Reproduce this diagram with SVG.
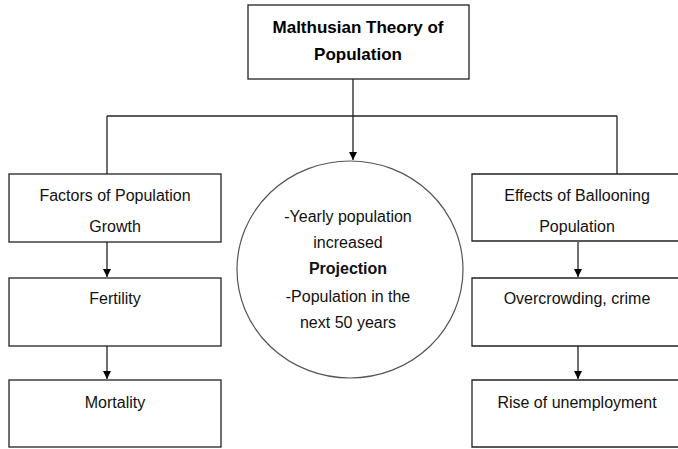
<svg xmlns="http://www.w3.org/2000/svg" width="678" height="449" viewBox="0 0 678 449">
  <defs>
    <marker id="arr" markerWidth="10" markerHeight="10" refX="8" refY="5" orient="auto" markerUnits="userSpaceOnUse">
      <path d="M0,1 L8,5 L0,9 Z" fill="#000"/>
    </marker>
    <style>
      .box { fill: #fff; stroke: #222; stroke-width: 1.3; }
      .conn { fill: none; stroke: #222; stroke-width: 1.3; }
      .t { font-family: "Liberation Sans", Arial, sans-serif; font-size: 16px; fill: #111; text-anchor: middle; }
      .tb { font-family: "Liberation Sans", Arial, sans-serif; font-size: 17px; font-weight: bold; fill: #000; text-anchor: middle; }
    </style>
  </defs>
  <rect width="678" height="449" fill="#fff"/>

  <g id="connectors">
    <path class="conn" d="M353,79 V116"/>
    <path class="conn" d="M107,116 H617"/>
    <path class="conn" d="M107,116 V174"/>
    <path class="conn" d="M617,116 V174"/>
    <path class="conn" d="M353,116 V160" marker-end="url(#arr)"/>
    <path class="conn" d="M107,242 V277" marker-end="url(#arr)"/>
    <path class="conn" d="M107,346 V379" marker-end="url(#arr)"/>
    <path class="conn" d="M578,242 V277" marker-end="url(#arr)"/>
    <path class="conn" d="M578,346 V379" marker-end="url(#arr)"/>
  </g>

  <g id="title">
    <rect class="box" x="248" y="5" width="221" height="74" stroke="#444" stroke-width="1.5"/>
    <text class="tb" x="358" y="33">Malthusian Theory of</text>
    <text class="tb" x="358" y="60">Population</text>
  </g>

  <g id="factors">
    <rect class="box" x="9" y="174" width="212" height="68"/>
    <text class="t" x="115" y="201">Factors of Population</text>
    <text class="t" x="115" y="232">Growth</text>
  </g>
  <g id="fertility">
    <rect class="box" x="9" y="278" width="212" height="68"/>
    <text class="t" x="115" y="304">Fertility</text>
  </g>
  <g id="mortality">
    <rect class="box" x="9" y="380" width="212" height="67"/>
    <text class="t" x="115" y="408">Mortality</text>
  </g>

  <g id="projection">
    <ellipse cx="350" cy="269.5" rx="113" ry="108.5" fill="#fff" stroke="#555" stroke-width="1.2"/>
    <text class="t" x="348" y="222">-Yearly population</text>
    <text class="t" x="348" y="248">increased</text>
    <text class="t" x="348" y="274" font-weight="bold" font-size="17">Projection</text>
    <text class="t" x="348" y="302">-Population in the</text>
    <text class="t" x="348" y="328">next 50 years</text>
  </g>

  <g id="effects">
    <path class="box" d="M678,174 H472 V241 H678"/>
    <text class="t" x="577" y="201">Effects of Ballooning</text>
    <text class="t" x="577" y="232">Population</text>
  </g>
  <g id="overcrowding">
    <path class="box" d="M678,278 H472 V346 H678"/>
    <text class="t" x="577" y="304">Overcrowding, crime</text>
  </g>
  <g id="unemployment">
    <path class="box" d="M678,380 H472 V447 H678"/>
    <text class="t" x="577" y="408">Rise of unemployment</text>
  </g>
</svg>
